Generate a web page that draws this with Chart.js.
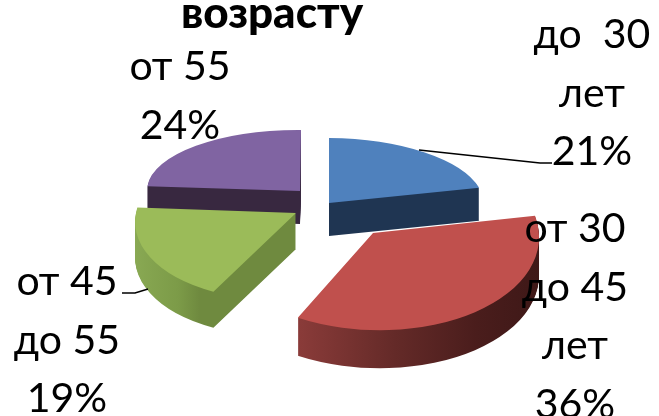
<!DOCTYPE html>
<html lang="ru">
<head>
<meta charset="utf-8">
<title>возрасту</title>
<script src="https://cdn.jsdelivr.net/npm/chart.js@4"></script>
<style>
  html, body { margin: 0; padding: 0; background: #fff; overflow: hidden; }
  canvas { display: block; }
</style>
</head>
<body>
<canvas id="chart" width="659" height="416"></canvas>
<script>
const chartTitle = 'возрасту';
const categories = ['до 30 лет', 'от 30 до 45 лет', 'от 45 до 55', 'от 55'];
const shares = [21, 36, 19, 24];
const labelLines = [['до  30', 'лет'], ['от 30', 'до 45', 'лет'], ['от 45', 'до 55'], ['от 55']];

const topColors = ['#4F81BD', '#C0504D', '#9BBB59', '#8064A2'];

// hand-fitted projection of each flat slice onto the tilted view: apex, x axis, y axis, wall height
const sliceViews = [
  { ax: 329, ay: 203, xx: 155, xy: 1, yx: 0, yy: 65, depth: 33, wall: [[329, '#1F3552'], [479, '#1F3552']] },
  { ax: 373, ay: 233, xx: 166, xy: 7, yx: -5, yy: 97, depth: 38, wall: [[298, '#8C3C3A'], [400, '#642A28'], [480, '#4A1D1C'], [543, '#3E1817']] },
  { ax: 296, ay: 213, xx: 160, xy: 0, yx: -16, yy: 87, depth: 36, wall: [[134, '#8AAA54'], [190, '#7C9B48'], [213, '#6F8A3F'], [296, '#6F8A3F']] },
  { ax: 300, ay: 191, xx: 153, xy: 1, yx: -1, yy: 61, depth: 33, wall: [[147, '#382840'], [300, '#382840']] }
];
const drawOrder = [3, 0, 2, 1];

// text blocks: centre x and first baseline of each label
const labelSpots = [
  { x: 592, y: 48 },
  { x: 575, y: 242 },
  { x: 67, y: 295 },
  { x: 180, y: 80 }
];
const lineGap = 58.5;

const leaderLines = [
  [[419, 150], [540, 163], [552, 163]],
  [[148, 289], [135, 293], [122, 293]]
];

const tiltedPie = {
  id: 'tiltedPie',
  beforeDatasetsDraw(chart) {
    const ctx = chart.ctx;
    const arcs = chart.getDatasetMeta(0).data;
    drawOrder.forEach(i => {
      const el = arcs[i];
      const v = sliceViews[i];
      const R = el.outerRadius;
      const place = () => {
        ctx.transform(v.xx / R, v.xy / R, v.yx / R, v.yy / R, v.ax, v.ay);
        ctx.translate(-el.x, -el.y);
      };
      const baseOptions = el.options;

      // gradient stops are given in page x, so turn them back into the slice's flat x
      const toFlat = x => el.x + (x - v.ax) * R / v.xx;
      const x0 = v.wall[0][0];
      const x1 = v.wall[v.wall.length - 1][0];
      const grad = ctx.createLinearGradient(toFlat(x0), 0, toFlat(x1), 0);
      v.wall.forEach(s => grad.addColorStop((s[0] - x0) / (x1 - x0), s[1]));

      el.options = Object.assign({}, baseOptions, { backgroundColor: grad, borderColor: grad });
      for (let d = v.depth; d > 0; d--) {
        ctx.save();
        ctx.translate(0, d);
        place();
        el.draw(ctx);
        ctx.restore();
      }
      el.options = baseOptions;

      ctx.save();
      place();
      el.draw(ctx);
      ctx.restore();
    });
    return false;
  },
  afterDraw(chart) {
    const ctx = chart.ctx;
    ctx.save();
    ctx.strokeStyle = '#000';
    ctx.lineWidth = 1.5;
    leaderLines.forEach(pts => {
      ctx.beginPath();
      pts.forEach((p, i) => (i ? ctx.lineTo(p[0], p[1]) : ctx.moveTo(p[0], p[1])));
      ctx.stroke();
    });

    ctx.fillStyle = '#000';
    ctx.textAlign = 'center';
    ctx.textBaseline = 'alphabetic';
    ctx.font = '900 44px Lato';
    ctx.fillText(chartTitle, 272, 28);

    ctx.font = '41px Lato';
    labelLines.forEach((lines, i) => {
      const spot = labelSpots[i];
      lines.concat(shares[i] + '%').forEach((line, n) => {
        ctx.fillText(line, spot.x, spot.y + n * lineGap);
      });
    });
    ctx.restore();
  }
};

new Chart(document.getElementById('chart'), {
  type: 'pie',
  data: {
    labels: categories,
    datasets: [{
      data: shares,
      backgroundColor: topColors,
      borderWidth: 0
    }]
  },
  options: {
    responsive: false,
    animation: false,
    devicePixelRatio: 1,
    plugins: { legend: { display: false }, tooltip: { enabled: false }, title: { display: false } }
  },
  plugins: [tiltedPie]
});
</script>
</body>
</html>
